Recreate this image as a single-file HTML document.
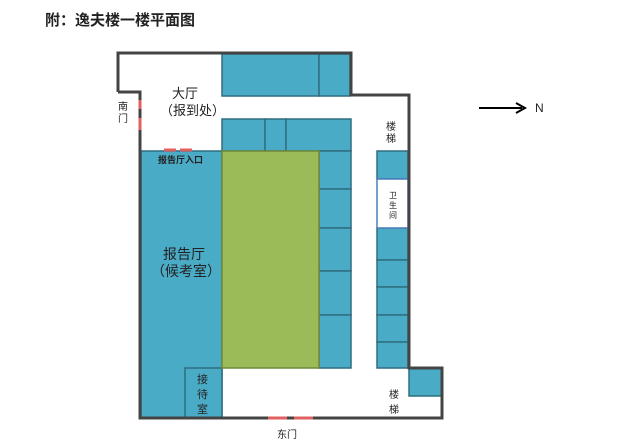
<!DOCTYPE html>
<html><head><meta charset="utf-8"><style>
html,body{margin:0;padding:0;background:#fff;width:617px;height:447px;overflow:hidden}
svg{display:block}
text{font-family:"Liberation Sans","Noto Sans CJK SC",sans-serif;fill:#222}
</style></head><body>
<svg width="617" height="447" viewBox="0 0 617 447" xmlns="http://www.w3.org/2000/svg">
<text x="45" y="25" font-size="15" font-weight="bold" fill="#000">附：逸夫楼一楼平面图</text>
<g fill="#4aabc6" stroke="#2e6f80" stroke-width="1.5">
<rect x="222" y="54" width="97" height="42"/>
<rect x="319" y="54" width="31" height="42"/>
<rect x="222" y="119" width="43" height="32"/>
<rect x="265" y="119" width="21" height="32"/>
<rect x="286" y="119" width="65" height="32"/>
<rect x="141" y="151" width="81" height="267"/>
<rect x="319" y="151" width="32" height="38"/>
<rect x="319" y="189" width="32" height="39"/>
<rect x="319" y="228" width="32" height="43"/>
<rect x="319" y="271" width="32" height="44"/>
<rect x="319" y="315" width="32" height="53"/>
<rect x="377" y="151" width="31" height="28"/>
<rect x="377" y="228" width="31" height="32"/>
<rect x="377" y="260" width="31" height="27"/>
<rect x="377" y="287" width="31" height="28"/>
<rect x="377" y="315" width="31" height="27"/>
<rect x="377" y="342" width="31" height="26"/>
<rect x="185" y="368" width="37" height="50"/>
<rect x="409" y="368" width="33" height="28"/>
</g>
<rect x="222" y="151" width="97" height="217" fill="#9bbb59" stroke="#6f8a3a" stroke-width="1.5"/>
<rect x="377" y="179" width="31" height="49" fill="#fff" stroke="#4a7ebb" stroke-width="1.5"/>
<polyline points="118,92 118,53 351,53 351,95 409,95 409,368 442,368 442,418 140,418 140,92 118,92" fill="none" stroke="#444" stroke-width="3"/>
<g stroke="#e06060" stroke-width="3">
<line x1="140" y1="100" x2="140" y2="109"/><line x1="140" y1="118" x2="140" y2="130"/>
<line x1="164" y1="150" x2="176" y2="150"/><line x1="180" y1="150" x2="192" y2="150"/>
<line x1="268" y1="418" x2="287" y2="418"/><line x1="294" y1="418" x2="313" y2="418"/>
</g>
<text x="172" y="98" font-size="13">大厅</text>
<text x="160" y="115" font-size="13">（报到处）</text>
<text x="118" y="110" font-size="10">南</text>
<text x="118" y="122" font-size="10">门</text>
<text x="158" y="163" font-size="9" font-weight="bold">报告厅入口</text>
<text x="163" y="259" font-size="14">报告厅</text>
<text x="151" y="276" font-size="14">（候考室）</text>
<text x="386" y="130" font-size="10">楼</text>
<text x="386" y="142" font-size="10">梯</text>
<text x="389" y="198" font-size="8">卫</text>
<text x="389" y="208" font-size="8">生</text>
<text x="389" y="218" font-size="8">间</text>
<text x="197" y="383" font-size="11">接</text>
<text x="197" y="398" font-size="11">待</text>
<text x="197" y="413" font-size="11">室</text>
<text x="389" y="398" font-size="10">楼</text>
<text x="389" y="413" font-size="10">梯</text>
<text x="277" y="438" font-size="10">东门</text>
<line x1="479" y1="108" x2="522" y2="108" stroke="#000" stroke-width="2"/>
<polyline points="516,103 525,108 516,113" fill="none" stroke="#000" stroke-width="2"/>
<text x="535" y="112" font-size="12" fill="#000">N</text>
</svg>
</body></html>
